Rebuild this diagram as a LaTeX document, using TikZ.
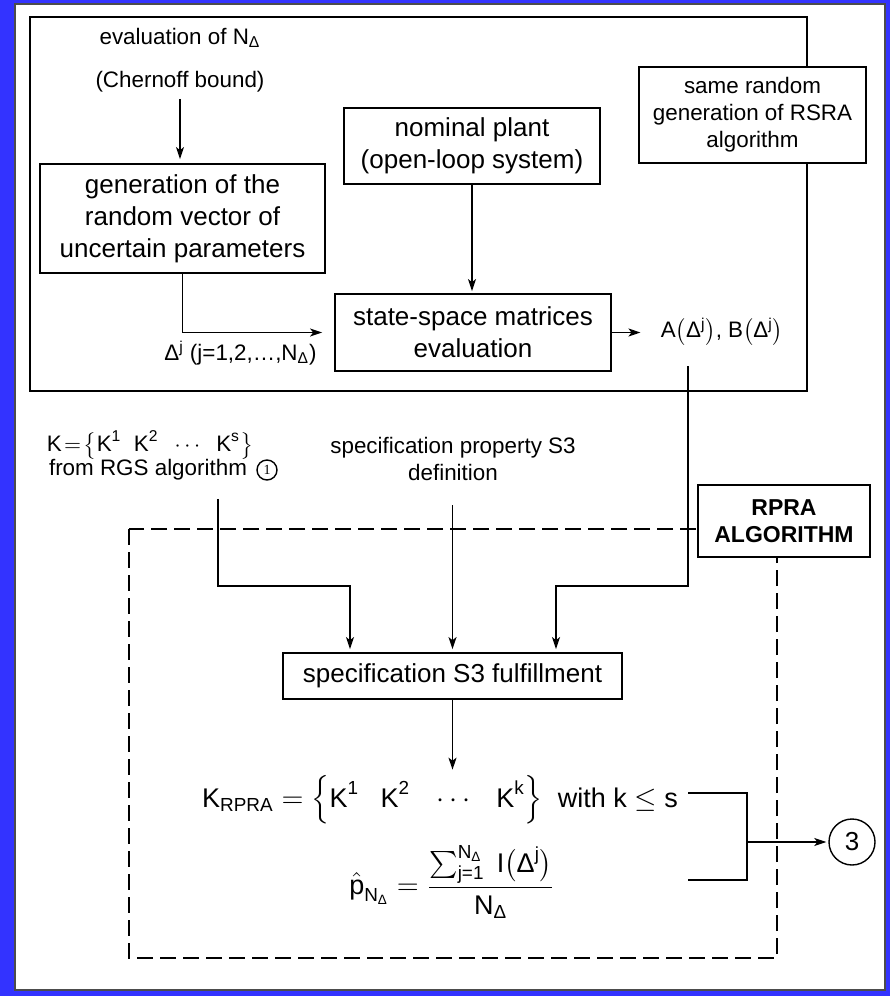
\documentclass[tikz,border=0pt]{standalone}
\usepackage{amsmath,amssymb}
\usepackage{fontspec}
\setmainfont{Liberation Sans}
\newfontfamily\talpas{Liberation Serif}
\usetikzlibrary{arrows.meta,positioning,calc}
\definecolor{hatterkek}{RGB}{51,51,255}
\tikzset{
  doboz/.style={draw,line width=0.9pt,fill=white,align=center,inner sep=2pt,
                font=\fontsize{13}{16}\selectfont},
  kisdoboz/.style={draw,line width=0.7pt,fill=white,align=center,inner sep=2pt,
                   font=\fontsize{11.2}{13.5}\selectfont},
  szoveg/.style={align=center,inner sep=1pt,font=\fontsize{11.2}{13.5}\selectfont},
  keplet/.style={inner sep=0pt,font=\fontsize{13.5}{16}\selectfont},
  nyil/.style={-{Stealth[length=6pt,width=4pt,inset=1.5pt]},line width=0.75pt},
  vonal/.style={line width=0.75pt},
  szagg/.style={line width=1pt,dash pattern=on 8pt off 3.5pt},
  kor/.style={circle,draw,line width=0.7pt,inner sep=0pt},
}

\begin{document}
\begin{tikzpicture}[x=0.5pt,y=-0.5pt]
  % hatter
  \useasboundingbox (0,0) rectangle (890,996);
  \fill[hatterkek] (0,0) rectangle (890,996);
  \draw[fill=white,line width=0.6pt,draw=black!70] (15,4) rectangle (885,990);
  % felso keret: mintavetelezes
  \draw[line width=1pt] (30,17) rectangle (807,391);
  \node[szoveg] (ertek) at (180,38) {evaluation of N\textsubscript{Δ}};
  \node[szoveg] (chernoff) at (180,82) {(Chernoff bound)};
  \node[doboz,minimum width=142.5pt,minimum height=54.5pt] (gen) at (182.5,218.5)
    {generation of the\\random vector of\\uncertain parameters};
  \node[doboz,minimum width=128pt,minimum height=38pt] (nomin) at (472,146)
    {nominal plant\\(open-loop system)};
  \node[kisdoboz,minimum width=113.5pt,minimum height=48pt] (rsra) at (752.5,115)
    {same random\\generation of RSRA\\algorithm};
  \node[doboz,minimum width=138pt,minimum height=38.5pt] (allapot) at (473,332.5)
    {state-space matrices\\evaluation};
  \node[szoveg,anchor=east] (delta) at (319,353) {Δ\textsuperscript{j} (j=1,2,…,N\textsubscript{Δ})};
  \node[szoveg] (AB) at (722,332) {A$\bigl($Δ\textsuperscript{j}$\bigr)$, B$\bigl($Δ\textsuperscript{j}$\bigr)$};
  \draw[nyil,shorten <=2pt,shorten >=2pt] (chernoff.south) -- (chernoff.south |- gen.north);
  \draw[nyil,shorten >=6pt] (gen.south) |- (allapot.west);
  \draw[nyil,shorten >=1pt] (nomin.south) -- (nomin.south |- allapot.north);
  \draw[nyil,shorten >=9pt] (allapot.east) -- (allapot.east -| AB.west);
  % also resz: RPRA
  \node[szoveg] (kvektor) at (150,445)
    {$\text{K}\!=\!\bigl\{\text{K}^{\text{1}}\ \ \text{K}^{\text{2}}\ \ \cdots\ \ \text{K}^{\text{s}}\bigr\}$};
  \node[szoveg] (rgs) at (148,470) {from RGS algorithm};
  \node[kor,minimum size=10pt,font=\fontsize{7}{8}\selectfont\talpas] (egy) at (267,470) {1};
  \node[szoveg] (definicio) at (453,459) {specification property S3\\definition};
  \draw[szagg] (129,529) rectangle (777,958);
  \node[kisdoboz,font=\bfseries\fontsize{11.5}{13.5}\selectfont,minimum width=86pt,minimum height=36pt]
    (rpra) at (784,521) {RPRA\\ALGORITHM};
  \node[doboz,minimum width=169.5pt,minimum height=23pt] (spec) at (452.5,676)
    {specification S3 fulfillment};
  \node[keplet] (krpra) at (440,800)
    {$\text{K}_{\text{RPRA}} = \Bigl\{\text{K}^{\text{1}}\enskip\; \text{K}^{\text{2}}\enskip\; \cdots\enskip\; \text{K}^{\text{k}}\Bigr\}$\ \ with\ k $\le$ s};
  \node[keplet] (phat) at (452,882)
    {$\hat{\text{p}}_{\text{N}_{\text{Δ}}} = \dfrac{\sum\nolimits_{\text{j=1}}^{\text{N}_{\text{Δ}}}\ \mathrm{I}\bigl(\text{Δ}^{\text{j}}\bigr)}{\text{N}_{\text{Δ}}}$};
  % bemenetek
  \coordinate (sarokK) at (218,586);
  \coordinate (belepK) at (350,586);
  \coordinate (sarokA) at (688,586);
  \coordinate (belepA) at (556,586);
  \draw[nyil,shorten <=8pt,shorten >=1.5pt] (rgs.south -| sarokK) -- (sarokK) -| (spec.north -| belepK);
  \draw[nyil,shorten <=11pt,shorten >=1.5pt] (definicio.south -| spec.north) -- (spec.north);
  \draw[nyil,shorten <=9pt,shorten >=1.5pt] (AB.south -| sarokA) -- (sarokA) -| (spec.north -| belepA);
  \draw[nyil,shorten >=2pt] (spec.south) -- (spec.south |- krpra.north);
  % kimenet
  \coordinate (fenti) at (688,793);
  \coordinate (lenti) at (688,880);
  \coordinate (gyujt) at (747,842);
  \draw[vonal] (fenti) -| (gyujt) |- (lenti);
  \node[kor,minimum size=23pt,font=\fontsize{13}{15}\selectfont] (harom) at (852,842) {3};
  \draw[nyil,shorten >=1pt] (gyujt) -- (harom);
\end{tikzpicture}
\end{document}
